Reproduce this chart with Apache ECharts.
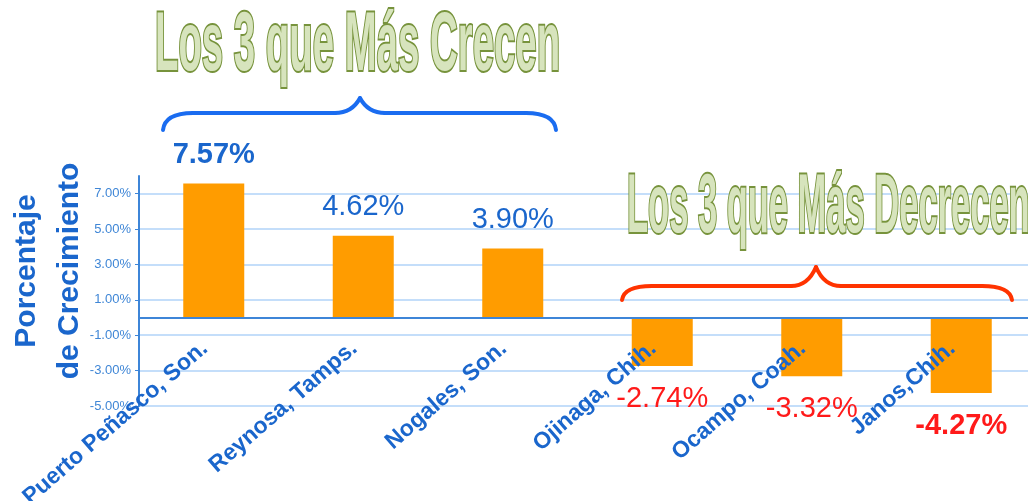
<!DOCTYPE html>
<html lang="es">
<head>
<meta charset="UTF-8">
<style>
    html, body { height: 100%; margin: 0; background: #fff; }
</style>
</head>
<body>
<div id="chart" style="width:1028px;height:501px;"></div>
<script src="https://cdn.jsdelivr.net/npm/echarts@6/dist/echarts.min.js"></script>
<script>
    // ciudades y porcentaje de crecimiento
    var ciudades = ['Puerto Peñasco, Son.', 'Reynosa, Tamps.', 'Nogales, Son.',
                    'Ojinaga, Chih.', 'Ocampo, Coah.', 'Janos,Chih.'];
    var crecimiento = [7.57, 4.62, 3.90, -2.74, -3.32, -4.27];
    var marcasY = [-5, -3, -1, 1, 3, 5, 7];

    var azul = '#1a66cc';
    var rojo = '#ff1a1a';

    var datos = crecimiento.map(function (v, i) {
        var extremo = (i === 0 || i === crecimiento.length - 1);
        return {
            value: v,
            label: {
                position: v >= 0 ? 'top' : 'bottom',
                distance: v >= 0 ? 14 : 18,
                color: v >= 0 ? azul : rojo,
                fontWeight: extremo ? 'bold' : 'normal'
            }
        };
    });

    // llave "{" horizontal: extremos en x0,x1 (abajo en yEnd), tramo en yMid, pico en xp,yPeak
    function llave(x0, x1, xp, yEnd, yMid, yPeak, color) {
        var st = { fill: null, stroke: color, lineWidth: 4, lineCap: 'round' };
        var segs = [
            { type: 'bezierCurve', shape: { x1: x0, y1: yEnd, cpx1: x0 + 2, cpy1: yMid, x2: x0 + 30, y2: yMid } },
            { type: 'line', shape: { x1: x0 + 30, y1: yMid, x2: xp - 25, y2: yMid } },
            { type: 'bezierCurve', shape: { x1: xp - 25, y1: yMid, cpx1: xp - 8, cpy1: yMid, x2: xp, y2: yPeak } },
            { type: 'bezierCurve', shape: { x1: xp, y1: yPeak, cpx1: xp + 8, cpy1: yMid, x2: xp + 25, y2: yMid } },
            { type: 'line', shape: { x1: xp + 25, y1: yMid, x2: x1 - 30, y2: yMid } },
            { type: 'bezierCurve', shape: { x1: x1 - 30, y1: yMid, cpx1: x1 - 2, cpy1: yMid, x2: x1, y2: yEnd } }
        ];
        return segs.map(function (s) { s.z = 100; s.style = st; return s; });
    }

    var myChart = echarts.init(document.getElementById('chart'));
    myChart.setOption({
        animation: false,
        grid: { left: 139, top: 176, width: 897, bottom: 95, containLabel: false, outerBoundsMode: 'none' },
        xAxis: {
            type: 'category',
            data: ciudades,
            z: 10,
            axisLine: { onZero: true, lineStyle: { color: '#3d85d8', width: 2 } },
            axisTick: { length: 5, lineStyle: { color: '#3d85d8', width: 1 } },
            axisLabel: {
                rotate: 41,
                margin: 20,
                padding: [0, 12, 0, 0],
                interval: 0,
                color: azul,
                fontFamily: 'Liberation Sans, Arial',
                fontWeight: 'bold',
                fontSize: 23
            }
        },
        yAxis: {
            type: 'value',
            min: -5,
            max: 8,
            axisLine: { show: true, lineStyle: { color: '#3d85d8', width: 2 } },
            axisTick: { show: true, length: 4, customValues: marcasY, lineStyle: { color: '#3d85d8' } },
            splitLine: { show: true, lineStyle: { color: '#c4defa', width: 2 } },
            axisLabel: {
                customValues: marcasY,
                margin: 8,
                color: '#3f86d6',
                fontFamily: 'Liberation Sans, Arial',
                fontSize: 13,
                formatter: function (v) { return v.toFixed(2) + '%'; }
            }
        },
        series: [{
            type: 'bar',
            data: datos,
            barWidth: 61,
            itemStyle: { color: '#ff9c00' },
            label: {
                show: true,
                fontFamily: 'Liberation Sans, Arial',
                fontSize: 29,
                formatter: function (p) { return p.value.toFixed(2) + '%'; }
            }
        }],
        graphic: [
            {
                type: 'text', z: 100,
                x: 48, y: 271, rotation: Math.PI / 2,
                style: {
                    text: 'Porcentaje\nde Crecimiento',
                    font: 'bold 30px "Liberation Sans", Arial',
                    fill: azul,
                    align: 'center', verticalAlign: 'middle',
                    lineHeight: 43
                }
            },
            {
                type: 'text', z: 100,
                x: 155, y: 47, scaleX: 0.834, scaleY: 1.82,
                style: {
                    text: 'Los 3 que Más Crecen',
                    font: 'bold 46px "Liberation Sans", Arial',
                    fill: '#d7e4bd', stroke: '#77933c', lineWidth: 2.2,
                    align: 'left', verticalAlign: 'middle'
                }
            },
            {
                type: 'text', z: 100,
                x: 627, y: 209, scaleX: 0.75, scaleY: 1.82,
                style: {
                    text: 'Los 3 que Más Decrecen',
                    font: 'bold 46px "Liberation Sans", Arial',
                    fill: '#d7e4bd', stroke: '#77933c', lineWidth: 2.2,
                    align: 'left', verticalAlign: 'middle'
                }
            }
        ].concat(
            llave(163, 556, 360, 130, 113, 98, '#1a6cf0'),
            llave(622, 1012, 816, 300, 286, 267, '#ff3300')
        )
    });

    // las etiquetas quedan en el borde inferior; se suben hasta la línea del cero
    var y0 = myChart.convertToPixel({ yAxisIndex: 0 }, 0);
    var yMin = myChart.convertToPixel({ yAxisIndex: 0 }, -5);
    myChart.setOption({ xAxis: { axisLabel: { margin: 20 - (yMin - y0) } } });
</script>
</body>
</html>
